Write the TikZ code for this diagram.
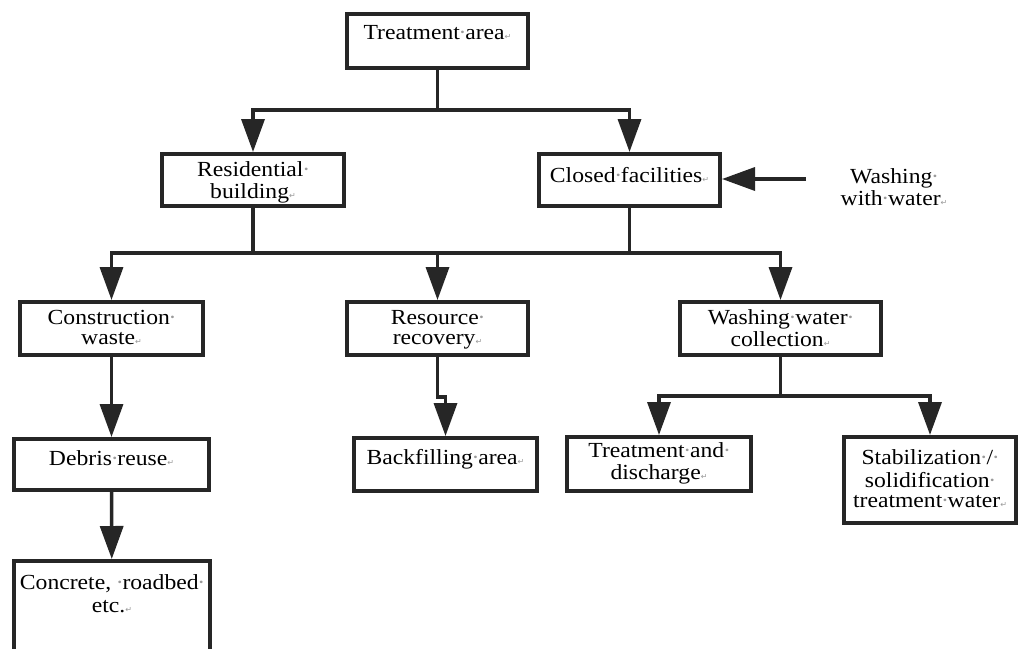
\documentclass[tikz,border=0pt]{standalone}
\usepackage{fontspec}
\setmainfont{Liberation Serif}[FakeStretch=1.1]
\newfontfamily\markfont{DejaVu Sans}
\usetikzlibrary{arrows.meta}
\definecolor{ink}{HTML}{262626}
\definecolor{markgray}{HTML}{9A9A9A}
% formatting marks: a space shown as a raised dot, and a paragraph return
\newcommand\sd{\makebox[0.25em]{\color{markgray}\textperiodcentered}}
\newcommand\rt{{\color{markgray}\markfont\fontsize{8}{8}\selectfont ↵}}
% box contents: width, height, offset of the first baseline from the top, text
\newcommand\bx[4]{\parbox[c][#2pt][t]{#1pt}{\centering\vspace*{\dimexpr#3pt-\ht\strutbox\relax}\strut #4\par}}
\begin{document}
\begin{tikzpicture}[x=1pt,y=-1pt,
  box/.style={draw=ink, line width=4pt, inner sep=0pt, fill=white, font=\fontsize{21.5}{20}\selectfont},
  plain/.style={inner sep=0pt, font=\fontsize{21.5}{20}\selectfont},
  conn/.style={draw=ink, line width=3.5pt},
  arr/.style={conn, -{Triangle[length=33pt,width=23pt]}}]
\useasboundingbox (0,0) rectangle (1019,648);
\fill[white] (0,0) rectangle (1019,648);
\clip (0,0) rectangle (1019,648);

% top level
\node[box] (ta) at (437.5,41) {\bx{181}{54}{25}{Treatment\sd area\rt}};

% second level
\node[box] (res) at (253,180) {\bx{182}{52}{22}{Residential\sd\\building\rt}};
\node[box] (cf) at (629.5,180) {\bx{181}{52}{27}{Closed\sd facilities\rt}};
\node[plain] (www) at (894,185) {\bx{130}{40}{18}{Washing\sd\\with\sd water\rt}};

% third level
\node[box] (cw) at (111.5,328.5) {\bx{183}{53}{22}{Construction\sd\\waste\rt}};
\node[box] (rr) at (437.5,328.5) {\bx{181}{53}{22}{Resource\sd\\recovery\rt}};
\node[box] (wwc) at (780.5,328.5) {\bx{201}{53}{22}{Washing\sd water\sd\\collection\rt}};

% fourth level
\node[box] (dr) at (111.5,464.5) {\bx{195}{51}{26}{Debris\sd reuse\rt}};
\node[box] (bf) at (445.5,464.5) {\bx{183}{53}{25}{Backfilling\sd area\rt}};
\node[box] (td) at (659,464) {\bx{184}{54}{20}{Treatment\sd and\sd\\discharge\rt}};
\node[box] (st) at (930,480) {\bx{172}{86}{27}{Stabilization\sd /\sd\\solidification\sd\\treatment\sd water\rt}};

% fifth level
\node[box, font=\fontsize{21.5}{23}\selectfont] (cr) at (112,641) {\bx{196}{160}{28}{Concrete, \sd roadbed\sd\\etc.\rt}};

% junction points
\coordinate (j1) at (437.5,110);
\coordinate (j2) at (253,253);
\coordinate (j3) at (629.5,253);
\coordinate (j4) at (437.5,397);
\coordinate (j5) at (780.5,396);
\coordinate (ws) at (806,179);

% connectors
\draw[conn] (ta) -- (j1);
\draw[arr] (j1) -| (res);
\draw[arr] (j1) -| (cf);
\draw[arr] (ws) -- (cf.east |- ws);

\draw[conn] (res) -- (j2);
\draw[conn] (cf) -- (j3);
\draw[conn] (j2) -- (j3);
\draw[arr] (j2) -| (cw);
\draw[arr] (j2 -| rr) -- (rr);
\draw[arr] (j3) -| (wwc);

\draw[arr] (cw) -- (dr);
\draw[arr] (dr) -- (cr);
\draw[arr] (rr) -- (j4) -| (bf);

\draw[conn] (wwc) -- (j5);
\draw[arr] (j5) -| (td);
\draw[arr] (j5) -| (st);
\end{tikzpicture}
\end{document}
